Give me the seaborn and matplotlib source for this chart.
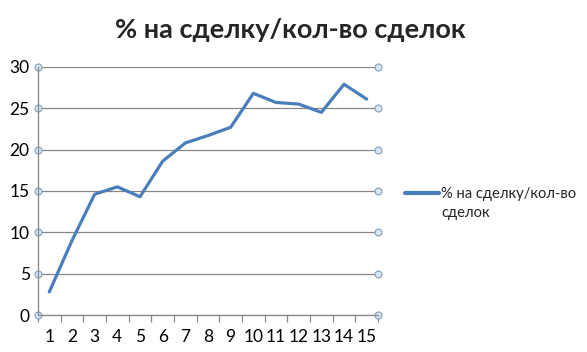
import matplotlib
matplotlib.use("Agg")
import matplotlib.pyplot as plt
import seaborn as sns
import pandas as pd
import numpy as np

categories = list(range(1, 16))
values = [2.8, 9.0, 14.6, 15.5, 14.3, 18.6, 20.8, 21.7, 22.7, 26.8, 25.7, 25.5, 24.5, 27.9, 26.1]
series_name = "% на сделку/кол-во\nсделок"
title = "% на сделку/кол-во сделок"
yticks = [0, 5, 10, 15, 20, 25, 30]

sns.set_theme(style="white")
plt.rcParams['font.family'] = ['Lato', 'DejaVu Sans']

df = pd.DataFrame({"cat": categories, "val": values})

fig = plt.figure(figsize=(5.87, 3.52), dpi=100)
ax = fig.add_axes([0.0647, 0.105, 0.5793, 0.705])

sns.lineplot(data=df, x="cat", y="val", ax=ax, color="#4A7EBB", linewidth=2.3,
             label=series_name)

ax.set_xlim(0.5, 15.5)
ax.set_ylim(0, 30)
ax.set_yticks(yticks)
ax.set_xticks(categories)
ax.set_xticklabels([str(c) for c in categories])
ax.set_xticks(np.arange(0.5, 16, 1), minor=True)
ax.tick_params(axis='x', which='major', length=0, labelsize=12.5, pad=10, colors="black")
ax.tick_params(axis='x', which='minor', length=5, width=0.9, color="#868686", direction='out', bottom=True)
ax.tick_params(axis='y', which='major', labelsize=12.5, pad=6, colors="black", left=True, right=True,
               length=0)
ax.set_xlabel("")
ax.set_ylabel("")
ax.grid(axis='y', color="#868686", linewidth=0.9)
ax.grid(axis='x', visible=False)
for s in ["top", "right"]:
    ax.spines[s].set_visible(False)
for s in ["left", "bottom"]:
    ax.spines[s].set_color("#868686")
    ax.spines[s].set_linewidth(0.9)

for t in ax.yaxis.get_major_ticks():
    for ln in (t.tick1line, t.tick2line):
        ln.set_marker('o')
        ln.set_markersize(5)
        ln.set_markerfacecolor("#DCE6F0")
        ln.set_markeredgecolor("#7FA0BE")
        ln.set_markeredgewidth(0.8)
        ln.set_visible(True)
        ln.set_clip_on(False)

leg = ax.legend(loc="center left", bbox_to_anchor=(1.079, 0.45), frameon=False,
                borderaxespad=0, borderpad=0,
                fontsize=10.6, handlelength=2.35, handletextpad=0.1)
for txt in leg.get_texts():
    txt.set_linespacing(1.45)
for hl in leg.get_lines():
    hl.set_ydata(np.asarray(hl.get_ydata()) + 7.5)
    hl.set_linewidth(3)

fig.text(0.494, 0.915, title, ha="center", va="center", fontsize=19.5, fontweight="bold")

fig.savefig("out.png", dpi=100)
